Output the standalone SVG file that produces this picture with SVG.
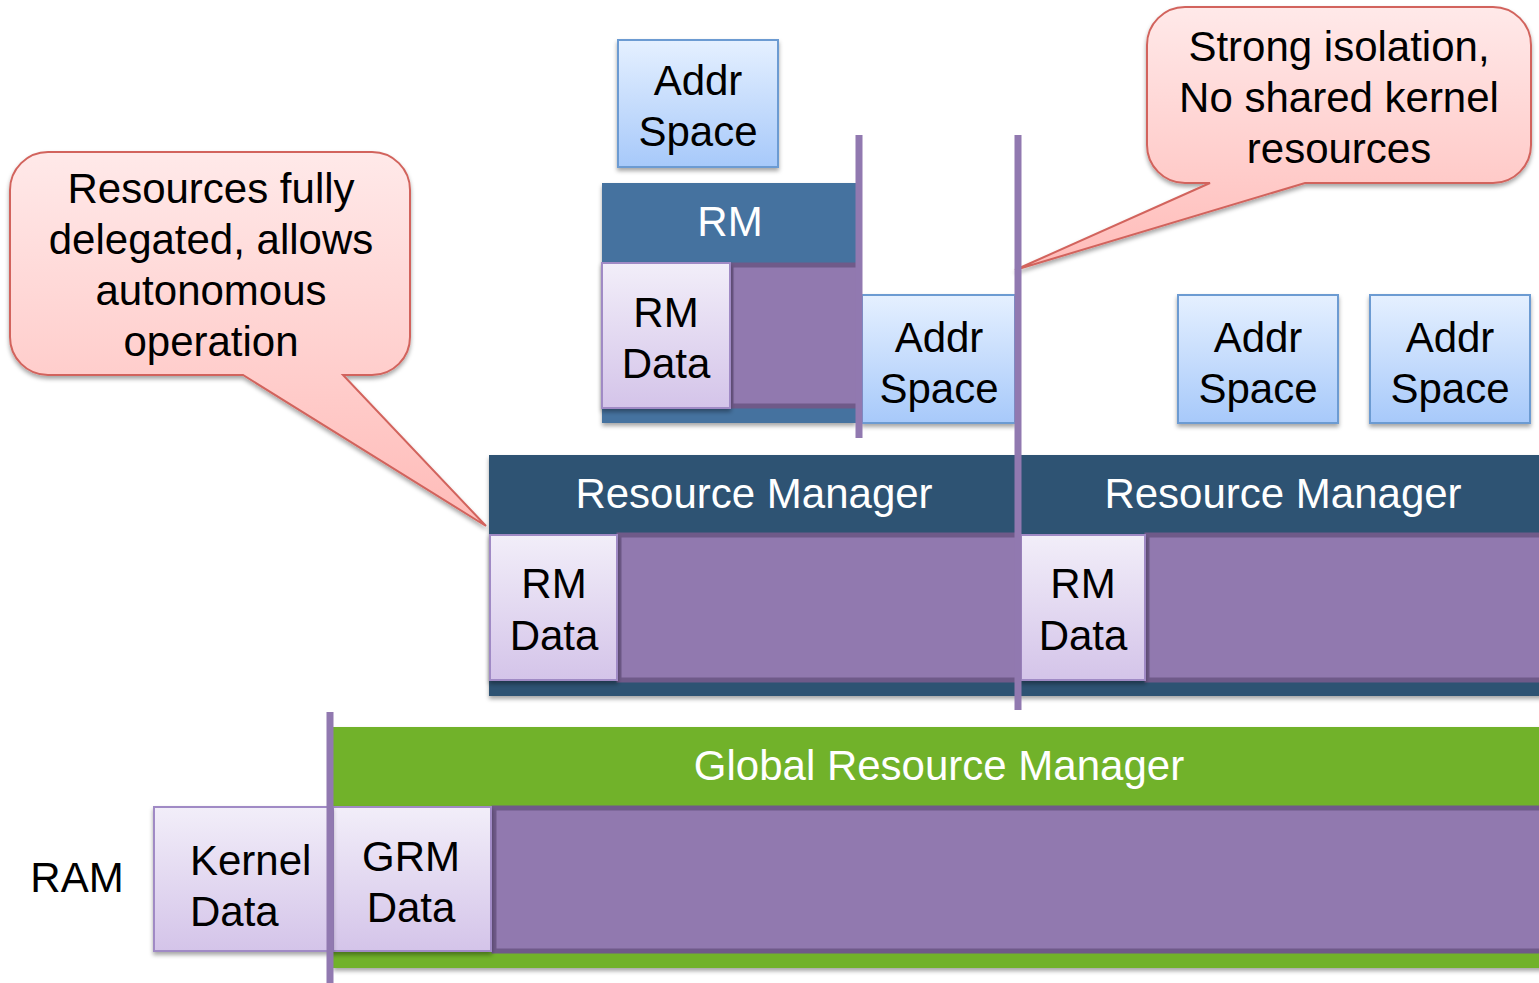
<svg xmlns="http://www.w3.org/2000/svg" width="1539" height="983" viewBox="0 0 1539 983">
  <defs>
    <linearGradient id="gAddr" x1="0" y1="0" x2="0" y2="1">
      <stop offset="0" stop-color="#E5F0FF"/>
      <stop offset="1" stop-color="#A7C9FA"/>
    </linearGradient>
    <linearGradient id="gData" x1="0" y1="0" x2="0" y2="1">
      <stop offset="0" stop-color="#F2EEF9"/>
      <stop offset="1" stop-color="#D4C4E9"/>
    </linearGradient>
    <linearGradient id="gNote" x1="0" y1="0" x2="0" y2="1">
      <stop offset="0" stop-color="#FFE9E9"/>
      <stop offset="1" stop-color="#FFBBB8"/>
    </linearGradient>
    <filter id="shadow" x="-10%" y="-10%" width="120%" height="130%">
      <feDropShadow dx="0" dy="3" stdDeviation="2" flood-color="#000" flood-opacity="0.35"/>
    </filter>
  </defs>
  <style>
    text { font-family: "Liberation Sans", Arial, sans-serif; font-size: 42px; fill: #000; }
    .mid { text-anchor: middle; }
    .white { fill: #fff; }
    .addr { fill: url(#gAddr); stroke: #6C9BD2; stroke-width: 2; filter: url(#shadow); }
    .data { fill: url(#gData); stroke: #A08AC5; stroke-width: 2; filter: url(#shadow); }
    .free { fill: #9179AF; stroke: #6F5A89; stroke-width: 5; }
    .note { fill: url(#gNote); stroke: #D2645D; stroke-width: 2; filter: url(#shadow); }
    .sep { stroke: #9179B0; stroke-width: 7; fill: none; }
  </style>

  <!-- callout: delegation -->
  <g id="note-delegated">
    <path class="note" d="M48,152 H372 A38,38 0 0 1 410,190 V337 A38,38 0 0 1 372,375 H343 L486,526 L243,375 H48 A38,38 0 0 1 10,337 V190 A38,38 0 0 1 48,152 Z"/>
    <text class="mid" x="211" y="203">Resources fully</text>
    <text class="mid" x="211" y="254">delegated, allows</text>
    <text class="mid" x="211" y="305">autonomous</text>
    <text class="mid" x="211" y="356">operation</text>
  </g>

  <!-- callout: isolation -->
  <g id="note-isolation">
    <path class="note" d="M1185,7 H1493 A38,38 0 0 1 1531,45 V145 A38,38 0 0 1 1493,183 H1305 L1015,270 L1210,183 H1185 A38,38 0 0 1 1147,145 V45 A38,38 0 0 1 1185,7 Z"/>
    <text class="mid" x="1339" y="61">Strong isolation,</text>
    <text class="mid" x="1339" y="112">No shared kernel</text>
    <text class="mid" x="1339" y="163">resources</text>
  </g>

  <!-- nested resource manager -->
  <g id="addr-top">
    <rect class="addr" x="618" y="40" width="160" height="127"/>
    <text class="mid" x="698" y="95">Addr</text>
    <text class="mid" x="698" y="146">Space</text>
  </g>
  <g id="rm-small">
    <rect x="602" y="183" width="254" height="240" fill="#45729F" filter="url(#shadow)"/>
    <text class="mid white" x="730" y="236">RM</text>
    <rect class="free" x="731" y="265" width="128" height="141"/>
    <rect class="data" x="602" y="263" width="128" height="145"/>
    <text class="mid" x="666" y="327">RM</text>
    <text class="mid" x="666" y="378">Data</text>
  </g>
  <g id="addr-mid">
    <rect class="addr" x="862" y="295" width="153" height="128"/>
    <text class="mid" x="939" y="352">Addr</text>
    <text class="mid" x="939" y="403">Space</text>
  </g>
  <g id="addr-right1">
    <rect class="addr" x="1178" y="295" width="160" height="128"/>
    <text class="mid" x="1258" y="352">Addr</text>
    <text class="mid" x="1258" y="403">Space</text>
  </g>
  <g id="addr-right2">
    <rect class="addr" x="1370" y="295" width="160" height="128"/>
    <text class="mid" x="1450" y="352">Addr</text>
    <text class="mid" x="1450" y="403">Space</text>
  </g>

  <!-- resource managers -->
  <g id="rm-left">
    <rect x="489" y="455" width="530" height="241" fill="#2F5273" filter="url(#shadow)"/>
    <text class="mid white" x="754" y="508">Resource Manager</text>
    <rect class="free" x="619" y="535" width="400" height="145"/>
    <rect class="data" x="490" y="535" width="127" height="145"/>
    <text class="mid" x="554" y="598">RM</text>
    <text class="mid" x="554" y="650">Data</text>
  </g>
  <g id="rm-right">
    <rect x="1019" y="455" width="530" height="241" fill="#2F5273" filter="url(#shadow)"/>
    <text class="mid white" x="1283" y="508">Resource Manager</text>
    <rect class="free" x="1147" y="535" width="400" height="145"/>
    <rect class="data" x="1021" y="535" width="124" height="145"/>
    <text class="mid" x="1083" y="598">RM</text>
    <text class="mid" x="1083" y="650">Data</text>
  </g>

  <!-- global resource manager -->
  <g id="grm">
    <rect x="333" y="727" width="1216" height="241" fill="#71B22A" filter="url(#shadow)"/>
    <text class="mid white" x="939" y="780">Global Resource Manager</text>
    <rect class="free" x="494" y="808" width="1055" height="143"/>
    <rect class="data" x="333" y="807" width="158" height="144"/>
    <text class="mid" x="411" y="871">GRM</text>
    <text class="mid" x="411" y="922">Data</text>
  </g>
  <g id="kernel">
    <rect class="data" x="154" y="807" width="178" height="144"/>
    <text x="190" y="875">Kernel</text>
    <text x="190" y="926">Data</text>
  </g>
  <g id="ram">
    <text class="mid" x="77" y="892">RAM</text>
  </g>

  <!-- isolation boundaries -->
  <g id="connectors">
    <line class="sep" x1="859" y1="135" x2="859" y2="438"/>
    <line class="sep" x1="1018" y1="135" x2="1018" y2="710"/>
    <line class="sep" x1="330" y1="712" x2="330" y2="983"/>
  </g>
</svg>
